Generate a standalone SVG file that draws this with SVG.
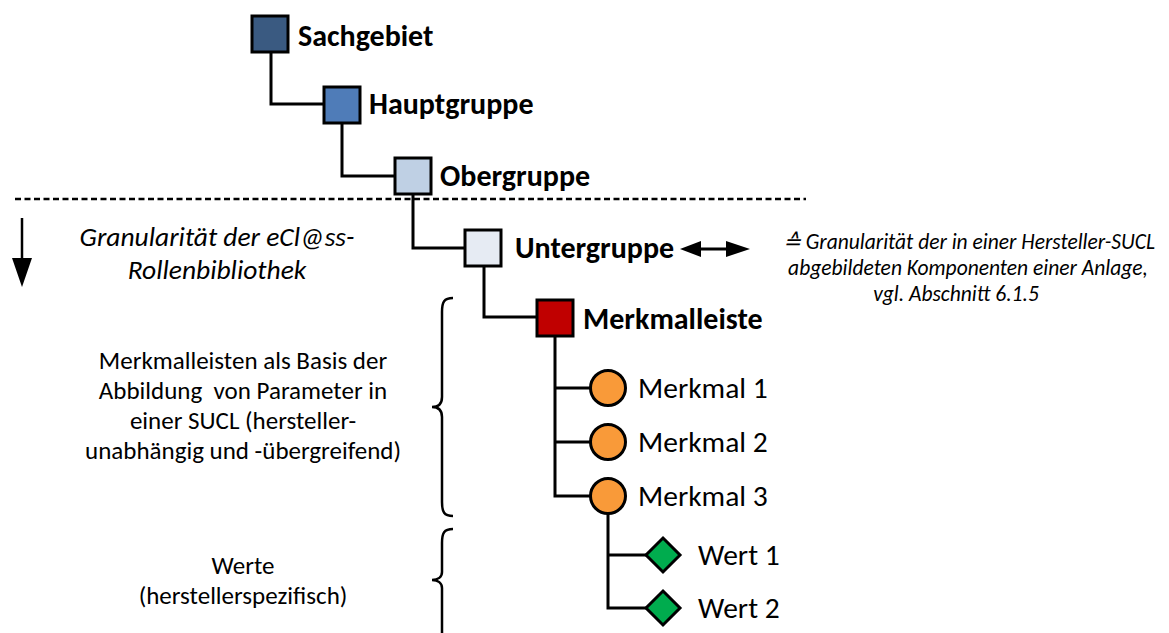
<svg xmlns="http://www.w3.org/2000/svg" width="1169" height="633" viewBox="0 0 1169 633">
  <style>
    .box { stroke: #000; stroke-width: 3; }
    .wire { fill: none; stroke: #000; stroke-width: 3; }
    .brace { fill: none; stroke: #000; stroke-width: 2.5; }
    .hd { font-family: Carlito, Lato, "Open Sans", sans-serif; font-weight: bold; font-size: 30px; fill: #000; }
    .lb { font-family: Carlito, Lato, "Open Sans", sans-serif; font-size: 29.5px; fill: #000; }
    .note { font-family: Carlito, Lato, "Open Sans", sans-serif; font-size: 25px; fill: #000; text-anchor: middle; }
    .it { font-family: Carlito, Lato, "Open Sans", sans-serif; font-style: italic; fill: #000; text-anchor: middle; }
  </style>

  <rect width="1169" height="633" fill="#fff"/>

  <!-- granularity boundary -->
  <line x1="15" y1="199" x2="806" y2="199" stroke="#000" stroke-width="2.5" stroke-dasharray="6 3.5"/>

  <!-- connectors -->
  <g id="connectors">
    <path class="wire" d="M271,52 V104 H323"/>
    <path class="wire" d="M342,123 V176 H395"/>
    <path class="wire" d="M413,193 V248 H465"/>
    <path class="wire" d="M484,266 V317 H536"/>
    <path class="wire" d="M555,337 V496 H590 M555,388 H590 M555,442 H590"/>
    <path class="wire" d="M608,514 V608 H647 M608,555 H647"/>
    <!-- down arrow -->
    <line x1="22" y1="218" x2="22" y2="262" stroke="#000" stroke-width="2.5"/>
    <path d="M12,258 L32,258 L22,287 z" fill="#000"/>
    <!-- double arrow -->
    <line x1="695" y1="249" x2="730" y2="249" stroke="#000" stroke-width="3"/>
    <path d="M680,249 L701,241 L701,257 z" fill="#000"/>
    <path d="M750,249 L726,241 L726,257 z" fill="#000"/>
  </g>

  <g id="sachgebiet">
    <rect class="box" x="252" y="16" width="36" height="36" fill="#3a5a81"/>
    <text class="hd" x="298" y="46" font-size="28">Sachgebiet</text>
  </g>
  <g id="hauptgruppe">
    <rect class="box" x="324" y="87" width="36" height="36" fill="#4f7cb8"/>
    <text class="hd" x="369" y="114">Hauptgruppe</text>
  </g>
  <g id="obergruppe">
    <rect class="box" x="395" y="158" width="36" height="36" fill="#bfd0e4"/>
    <text class="hd" x="440" y="186">Obergruppe</text>
  </g>
  <g id="untergruppe">
    <rect class="box" x="465" y="230" width="36" height="36" fill="#e6ebf3"/>
    <text class="hd" x="515" y="258">Untergruppe</text>
  </g>
  <g id="merkmalleiste">
    <rect class="box" x="537" y="300" width="36" height="36" fill="#c00000"/>
    <text class="hd" x="583" y="329">Merkmalleiste</text>
  </g>
  <g id="merkmal1">
    <circle class="box" cx="608" cy="388" r="17.5" fill="#f99a39"/>
    <text class="lb" x="638" y="398">Merkmal 1</text>
  </g>
  <g id="merkmal2">
    <circle class="box" cx="608" cy="442" r="17.5" fill="#f99a39"/>
    <text class="lb" x="638" y="452">Merkmal 2</text>
  </g>
  <g id="merkmal3">
    <circle class="box" cx="608" cy="496" r="17.5" fill="#f99a39"/>
    <text class="lb" x="638" y="506">Merkmal 3</text>
  </g>
  <g id="wert1">
    <path class="box" d="M663,538 L680,555 L663,572 L646,555 z" fill="#00ac4e"/>
    <text class="lb" x="698" y="565">Wert 1</text>
  </g>
  <g id="wert2">
    <path class="box" d="M663,591 L680,608 L663,625 L646,608 z" fill="#00ac4e"/>
    <text class="lb" x="698" y="618">Wert 2</text>
  </g>

  <!-- annotations -->
  <g id="granularitaet">
    <text class="it" x="217" y="246" font-size="27.5">Granularität der eCl@ss-</text>
    <text class="it" x="217" y="279" font-size="27.5">Rollenbibliothek</text>
  </g>
  <g id="sucl-hinweis">
    <text class="it" x="969" y="249" font-size="21.5">≙ Granularität der in einer Hersteller-SUCL</text>
    <text class="it" x="968" y="275" font-size="21.5">abgebildeten Komponenten einer Anlage,</text>
    <text class="it" x="956" y="301" font-size="21.5">vgl. Abschnitt 6.1.5</text>
  </g>
  <g id="merkmalleisten-hinweis">
    <path class="brace" d="M453,298 C444,298 442,302 442,312 V397 C442,404 438,407 432,407 C438,407 442,410 442,417 V502 C442,512 444,516 453,516"/>
    <text class="note" x="243" y="369">Merkmalleisten als Basis der</text>
    <text class="note" x="243" y="399" xml:space="preserve">Abbildung  von Parameter in</text>
    <text class="note" x="243" y="429">einer SUCL (hersteller-</text>
    <text class="note" x="243" y="459">unabhängig und -übergreifend)</text>
  </g>
  <g id="werte-hinweis">
    <path class="brace" d="M453,529 C444,529 442,533 442,543 V572 C442,577 438,580 432,580 C438,580 442,583 442,588 V640"/>
    <text class="note" x="243" y="574">Werte</text>
    <text class="note" x="243" y="604">(herstellerspezifisch)</text>
  </g>
</svg>
